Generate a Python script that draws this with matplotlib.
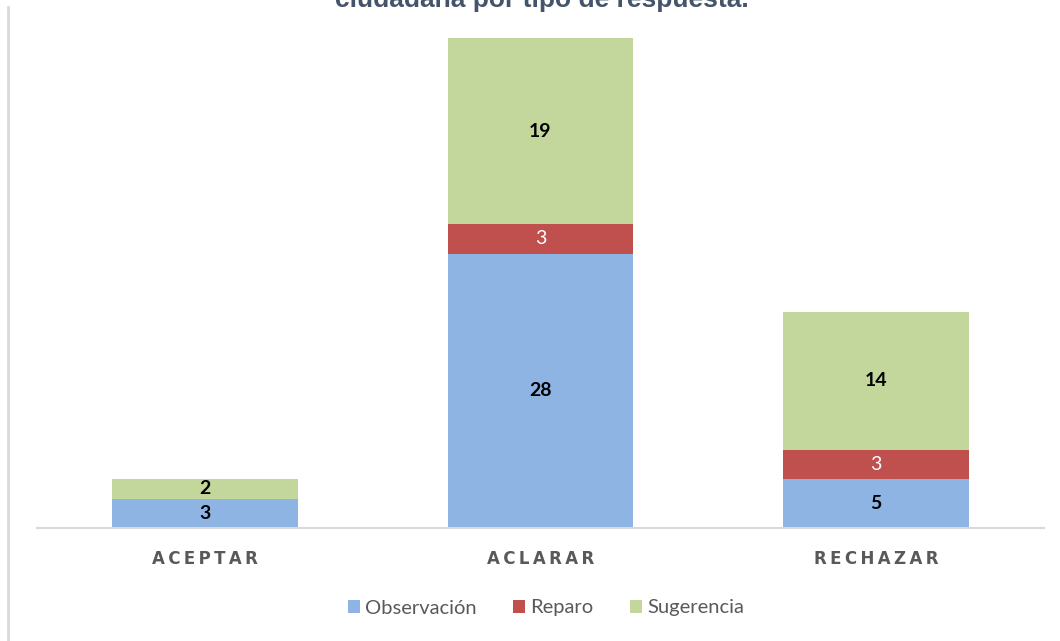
import numpy as np
import matplotlib.pyplot as plt
from matplotlib.lines import Line2D

# respuestas por tipo
categorias = ['ACEPTAR', 'ACLARAR', 'RECHAZAR']
observacion = [3, 28, 5]
reparo = [0, 3, 3]
sugerencia = [2, 19, 14]

azul = '#8EB4E3'
rojo = '#C0504D'
verde = '#C3D69B'

fig = plt.figure(figsize=(10.6, 6.41), dpi=100)
ax = fig.add_axes([37/1060, 113/641, (1044-37)/1060, (528-38)/641])

x = np.arange(len(categorias))
w = 0.554
obs = np.array(observacion)
rep = np.array(reparo)
sug = np.array(sugerencia)

b1 = ax.bar(x, obs, w, color=azul, label='Observación')
b2 = ax.bar(x, rep, w, bottom=obs, color=rojo, label='Reparo')
b3 = ax.bar(x, sug, w, bottom=obs+rep, color=verde, label='Sugerencia')

for i in range(len(x)):
    ax.text(x[i], obs[i]/2, str(obs[i]), ha='center', va='center',
            fontsize=14, fontweight='bold', family='Lato', color='black')
    if rep[i] > 0:
        ax.text(x[i], obs[i]+rep[i]/2, str(rep[i]), ha='center', va='center',
                fontsize=14, family='Lato', color='white')
    ax.text(x[i], obs[i]+rep[i]+sug[i]/2, str(sug[i]), ha='center', va='center',
            fontsize=14, fontweight='bold', family='Lato', color='black')

ax.set_xlim(-0.5, 2.5)
ax.set_ylim(0, 50)
ax.set_yticks([])
ax.set_xticks(x)
ax.set_xticklabels(['\u2009'.join(list(c)) for c in categorias], fontsize=12,
                   fontweight='bold', color='#595959', family='DejaVu Sans')
ax.tick_params(axis='x', length=0, pad=16)
for s in ['top', 'right', 'left']:
    ax.spines[s].set_visible(False)
ax.spines['bottom'].set_color('#D9D9D9')
ax.spines['bottom'].set_linewidth(1.5)

leg = fig.legend(handles=[b1, b2, b3], loc='center', bbox_to_anchor=(546/1060, 1-608/641),
                 ncol=3, frameon=False, prop={'family': 'Lato', 'size': 14.5},
                 handlelength=0.6, handleheight=0.6, handletextpad=0.25, columnspacing=1.8)
for t in leg.get_texts():
    t.set_color('#595959')

fig.text(542/1060, 1-7/641, 'ciudadana por tipo de respuesta.', ha='center', va='baseline',
         fontsize=19, fontweight='bold', color='#44546A', family='Liberation Sans')

fig.add_artist(Line2D([8/1060, 8/1060], [0, 1-7/641], color='#D9D9D9', lw=2))

fig.savefig('out.png', dpi=100)
